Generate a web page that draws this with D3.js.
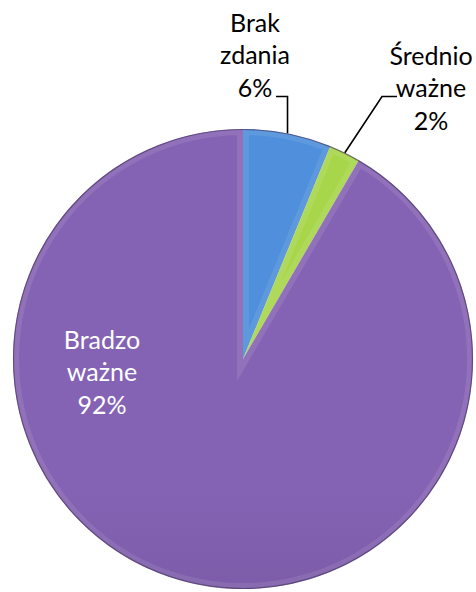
<!DOCTYPE html>
<html><head><meta charset="utf-8">
<script src="https://cdn.jsdelivr.net/npm/d3@7"></script>
<style>html,body{margin:0;padding:0;background:#fff;}svg{display:block;}</style>
</head><body>
<script>
const categories = ["Brak zdania", "Średnio ważne", "Bradzo ważne"];
const values = [6.2, 2.2, 91.6];
const percentLabels = ["6%", "2%", "92%"];

const W = 476, H = 592;
const cx = 243, cy = 359, R = 230;
const colors = [
  {top:"#4f8fdb", bot:"#3668ad"},
  {top:"#a8d64a", bot:"#86b330"},
  {top:"#8563b4", bot:"#5e4484"}
];
const labelLayout = [
  {x:255, y:32, textColor:"#000", leader:"elbow", hx0:276, hx1:288, hy:96.5},
  {x:431, y:65, textColor:"#000", leader:"diag", hx0:397, hx1:382, hy:96.5},
  {x:102, y:349, textColor:"#fff", leader:null}
];
const lineH = 32.3;

const svg = d3.select("body").append("svg").attr("width", W).attr("height", H);
const defs = svg.append("defs");
const data = categories.map((c,i)=>({name:c, value:values[i], pct:percentLabels[i], i}));

const pie = d3.pie().sort(null).value(d=>d.value);
const arcs = pie(data);
const arc = d3.arc().innerRadius(0).outerRadius(R);

arcs.forEach((a,i)=>{
  const g = defs.append("linearGradient").attr("id","g"+i)
    .attr("gradientUnits","userSpaceOnUse")
    .attr("x1",0).attr("y1",cy-R).attr("x2",0).attr("y2",cy+R);
  g.append("stop").attr("offset","0%").attr("stop-color",colors[i].top);
  g.append("stop").attr("offset","100%").attr("stop-color",colors[i].bot);
  defs.append("clipPath").attr("id","c"+i).append("path").attr("d",arc(a)).attr("transform",`translate(${cx},${cy})`);
});

const gp = svg.append("g");
arcs.forEach((a,i)=>{
  gp.append("path").attr("d",arc(a)).attr("transform",`translate(${cx},${cy})`)
    .attr("fill",`url(#g${i})`);
  const cg = gp.append("g").attr("clip-path",`url(#c${i})`);
  cg.append("path").attr("d",arc(a)).attr("transform",`translate(${cx},${cy})`)
    .attr("fill","none").attr("stroke","#fff").attr("stroke-opacity",0.09).attr("stroke-width",12);
});
svg.append("circle").attr("cx",cx).attr("cy",cy).attr("r",R-0.5)
  .attr("fill","none").attr("stroke","#3f2f58").attr("stroke-opacity",0.6).attr("stroke-width",1.2);

arcs.forEach((a,i)=>{
  const L = labelLayout[i];
  const lines = a.data.name.split(" ").concat([a.data.pct]);
  const t = svg.append("text").attr("text-anchor","middle")
    .attr("font-family","Lato, 'Noto Sans', sans-serif").attr("font-size",25)
    .attr("fill",L.textColor);
  lines.forEach((s,k)=>{
    t.append("tspan").attr("x",L.x).attr("y",L.y + k*lineH).text(s);
  });
  if(L.leader){
    const mid = (a.startAngle+a.endAngle)/2;
    const ex = cx + R*Math.sin(mid), ey = cy - R*Math.cos(mid);
    let d;
    if(L.leader==="elbow") d = `M${L.hx0},${L.hy}H${ex}V${ey}`;
    else d = `M${L.hx0},${L.hy}H${L.hx1}L${ex},${ey}`;
    svg.append("path").attr("d",d).attr("fill","none").attr("stroke","#000").attr("stroke-width",1.6);
  }
});
</script>
</body></html>
